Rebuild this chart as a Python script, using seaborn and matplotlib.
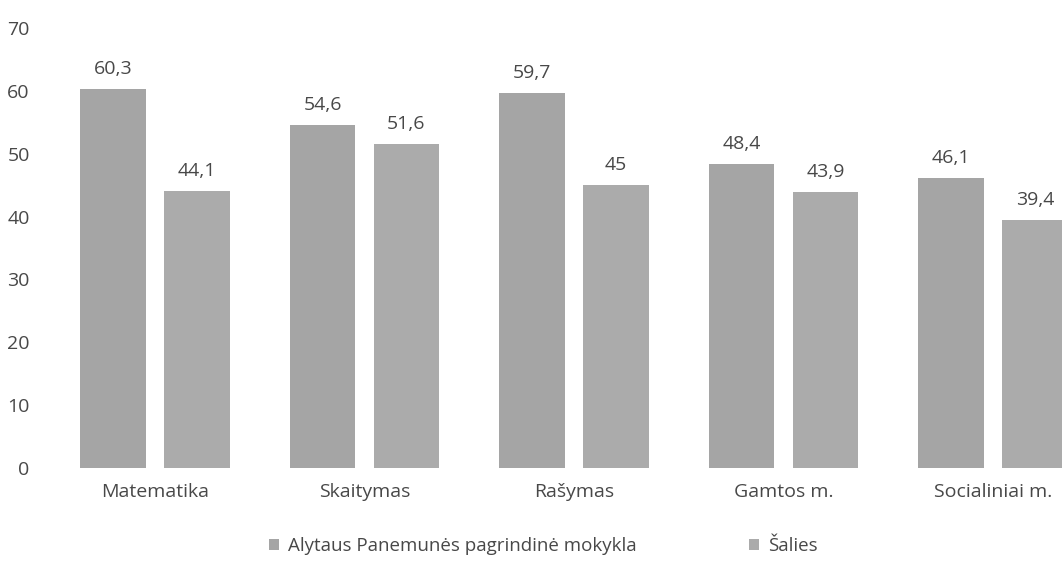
import matplotlib
matplotlib.use("Agg")
import matplotlib.pyplot as plt
import seaborn as sns
import pandas as pd

# subjects and the two series (school vs country average)
subjects = ["Matematika", "Skaitymas", "Rašymas", "Gamtos m.", "Socialiniai m."]
school = [60.3, 54.6, 59.7, 48.4, 46.1]
country = [44.1, 51.6, 45.0, 43.9, 39.4]
series_names = ["Alytaus Panemunės pagrindinė mokykla", "Šalies"]
y_ticks = [0, 10, 20, 30, 40, 50, 60, 70]

df = pd.DataFrame({
    "dalykas": subjects * 2,
    "reiksme": school + country,
    "serija": [series_names[0]] * len(subjects) + [series_names[1]] * len(subjects),
})

sns.set_theme(style="white")
plt.rcParams["font.family"] = ["Open Sans", "DejaVu Sans"]

text_col = "#484848"
fig = plt.figure(figsize=(10.62, 5.65), dpi=100)
ax = fig.add_axes([45 / 1062, 97 / 565, 1 - 45 / 1062, (468 - 28) / 565])

sns.barplot(data=df, x="dalykas", y="reiksme", hue="serija",
            order=subjects, hue_order=series_names,
            palette=["#a5a5a5", "#ababab"], width=0.8, gap=0.22,
            saturation=1, linewidth=0, ax=ax, legend=True)

# data labels with decimal comma, like the original
for cont, vals in zip(ax.containers, [school, country]):
    labels = [f"{v:g}".replace(".", ",") for v in vals]
    ax.bar_label(cont, labels=labels, padding=8, fontsize=14, color=text_col)

ax.set_ylim(0, 70)
ax.set_yticks(y_ticks)
ax.set_xlim((45 - 155) / 209.5, (1062 - 155) / 209.5)
ax.set_xlabel("")
ax.set_ylabel("")
ax.tick_params(axis="both", length=0, labelsize=14, colors=text_col)
ax.tick_params(axis="y", pad=11)
ax.tick_params(axis="x", pad=11)
for s in ax.spines.values():
    s.set_visible(False)

handles, labels = ax.get_legend_handles_labels()
ax.legend(handles, labels, loc="center", bbox_to_anchor=(0.5 - 10 / 1017, -0.177),
          ncol=2, frameon=False, fontsize=13.5, handlelength=0.5, handleheight=0.5,
          handletextpad=0.5, columnspacing=6.0, labelcolor=text_col)

fig.savefig("out.png", dpi=100)
